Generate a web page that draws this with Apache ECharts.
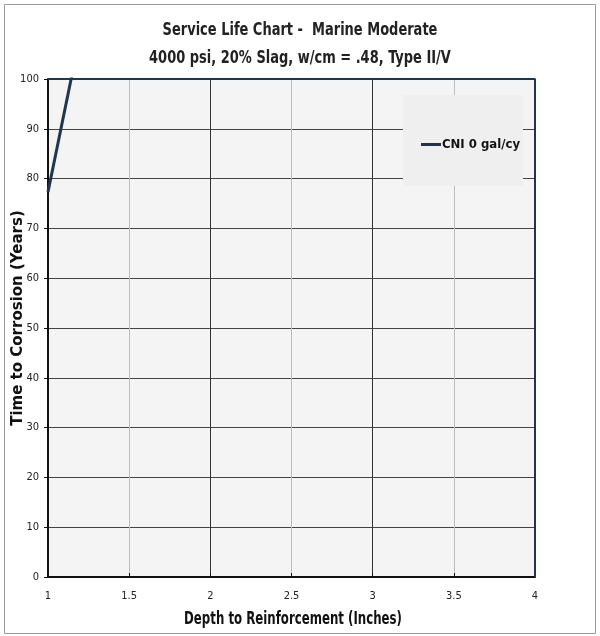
<!DOCTYPE html>
<html><head><meta charset="utf-8">
<script src="https://cdn.jsdelivr.net/npm/echarts@6/dist/echarts.min.js"></script>
<style>html,body{margin:0;padding:0;background:#fff}#c{width:600px;height:636px}</style>
</head><body><div id="c"></div>
<script>
const seriesName = 'CNI 0 gal/cy';
const depth = [1, 1.5];
const years = [77.3, 157];
const titleLines = ['Service Life Chart -  Marine Moderate', '4000 psi, 20% Slag, w/cm = .48, Type II/V'];
const xTitle = 'Depth to Reinforcement (Inches)';
const yTitle = 'Time to Corrosion (Years)';

const chart = echarts.init(document.getElementById('c'), null, {renderer: 'canvas'});
const narrow = '"DejaVu Sans Condensed", "Open Sans", sans-serif';
chart.setOption({
  animation: false,
  backgroundColor: '#fff',
  graphic: [
    {type: 'rect', shape: {x: 4.5, y: 4.5, width: 591, height: 629}, style: {fill: 'none', stroke: '#999', lineWidth: 1}, z: 0},
    {type: 'rect', shape: {x: 403, y: 95, width: 120, height: 91}, style: {fill: '#efefef', stroke: 'none'}, z: 10},
    {type: 'text', x: 300, y: 31, scaleX: 0.85, style: {text: titleLines[0], font: 'bold 17px ' + narrow, fill: '#222', align: 'center', verticalAlign: 'middle'}},
    {type: 'text', x: 300, y: 59, scaleX: 0.85, style: {text: titleLines[1], font: 'bold 17px ' + narrow, fill: '#222', align: 'center', verticalAlign: 'middle'}},
    {type: 'text', x: 293, y: 620, scaleX: 0.77, style: {text: xTitle, font: 'bold 17px ' + narrow, fill: '#111', align: 'center', verticalAlign: 'middle'}},
    {type: 'text', x: 18, y: 318, rotation: Math.PI / 2, style: {text: yTitle, font: 'bold 15px "DejaVu Sans", sans-serif', fill: '#111', align: 'center', verticalAlign: 'middle'}}
  ],
  grid: {left: 48, right: 65, top: 79, bottom: 59, outerBoundsMode: 'none', containLabel: false, backgroundColor: '#f4f4f4', show: true, borderWidth: 0},
  legend: {
    data: [seriesName], left: 416, top: 133, itemWidth: 20, itemHeight: 3, itemGap: 0, z: 20,
    icon: 'rect',
    textStyle: {fontFamily: narrow, fontWeight: 'bold', fontSize: 13, color: '#111', padding: [0,0,0,-4]}
  },
  xAxis: {
    type: 'value', min: 1, max: 4, interval: 0.5,
    axisLine: {show: true, lineStyle: {color: '#111', width: 2}},
    axisTick: {show: true, inside: true, length: 4, lineStyle: {color: '#111'}},
    axisLabel: {fontFamily: narrow, fontSize: 11, color: '#222', margin: 14},
    splitLine: {show: true, lineStyle: {color: ['#333', '#bdbdbd'], width: 1}}
  },
  yAxis: {
    type: 'value', min: 0, max: 100, interval: 10,
    axisLine: {show: true, lineStyle: {color: '#111', width: 2}},
    axisTick: {show: true, length: 4, lineStyle: {color: '#111'}},
    axisLabel: {fontFamily: narrow, fontSize: 11, color: '#222', margin: 9},
    splitLine: {show: true, lineStyle: {color: '#444', width: 1}}
  },
  series: [
    {type: 'line', name: seriesName, data: depth.map((d, i) => [d, years[i]]), showSymbol: false, clip: true,
     lineStyle: {color: '#1f3550', width: 3}, itemStyle: {color: '#1f3550'}, z: 5},
    {type: 'line', name: 'frame', data: [[1, 100], [4, 100], [4, 0]], showSymbol: false, silent: true,
     lineStyle: {color: '#1f3550', width: 2}, tooltip: {show: false}, z: 4}
  ]
});
</script></body></html>
